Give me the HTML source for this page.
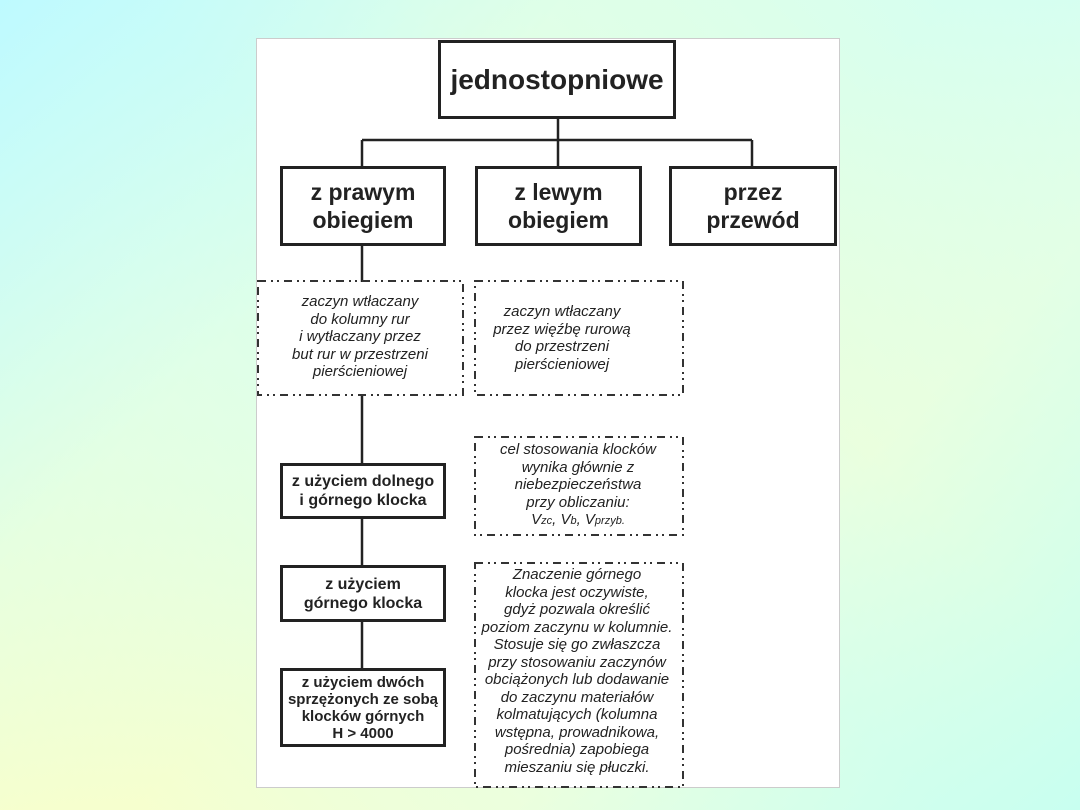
<!DOCTYPE html>
<html><head><meta charset="utf-8"><style>
html,body{margin:0;padding:0}
body{width:1080px;height:810px;overflow:hidden;position:relative;background:linear-gradient(45deg,#fbffc8 0%,#e4ffe4 35%,#d6ffee 50%,#e6ffe0 65%,#d2fff4 100%);font-family:"Liberation Sans",Arial,sans-serif}
.bg{position:absolute;left:0;top:0;width:1080px;height:810px;background:linear-gradient(135deg,rgba(190,250,255,1) 0%,rgba(220,255,235,0.5) 30%,rgba(255,255,255,0) 50%,rgba(240,255,220,0.4) 70%,rgba(200,255,240,1) 100%)}
.panel{position:absolute;left:256px;top:38px;width:584px;height:750px;background:#fff;border:1px solid #ccc;box-sizing:border-box}
.b{position:absolute;box-sizing:border-box;border:3px solid #222;background:#fff;display:flex;align-items:center;justify-content:center;text-align:center;font-weight:bold;color:#222}
.t{position:absolute;text-align:center;font-style:italic;color:#222;font-size:15px;line-height:17.5px}
svg{position:absolute;left:0;top:0}
</style></head><body>
<div class="bg"></div>
<div class="panel"></div>
<svg width="1080" height="810">
<g stroke="#222" stroke-width="2.5" fill="none">
<line x1="558" y1="118" x2="558" y2="166"/>
<line x1="362" y1="140" x2="752" y2="140"/>
<line x1="362" y1="140" x2="362" y2="166"/>
<line x1="752" y1="140" x2="752" y2="166"/>
<line x1="362" y1="245" x2="362" y2="282"/>
<line x1="362" y1="395" x2="362" y2="463"/>
<line x1="362" y1="518" x2="362" y2="565"/>
<line x1="362" y1="621" x2="362" y2="668"/>
</g>
<g stroke="#333" stroke-width="2" fill="none" stroke-dasharray="8 5 2 4 2 5">
<rect x="258" y="281" width="205" height="114"/>
<rect x="475" y="281" width="208" height="114"/>
<rect x="475" y="437" width="208" height="98"/>
<rect x="475" y="563" width="208" height="224"/>
</g>
</svg>
<div class="b" style="left:438px;top:40px;width:238px;height:79px;font-size:28px">jednostopniowe</div>
<div class="b" style="left:280px;top:166px;width:166px;height:80px;font-size:23px;line-height:28px">z prawym<br>obiegiem</div>
<div class="b" style="left:475px;top:166px;width:167px;height:80px;font-size:23px;line-height:28px">z lewym<br>obiegiem</div>
<div class="b" style="left:669px;top:166px;width:168px;height:80px;font-size:23px;line-height:28px">przez<br>przewód</div>
<div class="b" style="left:280px;top:463px;width:166px;height:56px;font-size:16px;line-height:19px">z użyciem dolnego<br>i górnego klocka</div>
<div class="b" style="left:280px;top:565px;width:166px;height:57px;font-size:16px;line-height:19px">z użyciem<br>górnego klocka</div>
<div class="b" style="left:280px;top:668px;width:166px;height:79px;font-size:15px;line-height:17px">z użyciem dwóch<br>sprzężonych ze sobą<br>klocków górnych<br>H &gt; 4000</div>
<div class="t" style="left:260px;top:293px;width:200px">zaczyn wtłaczany<br>do kolumny rur<br>i wytłaczany przez<br>but rur w przestrzeni<br>pierścieniowej</div>
<div class="t" style="left:477px;top:303px;width:170px">zaczyn wtłaczany<br>przez więźbę rurową<br>do przestrzeni<br>pierścieniowej</div>
<div class="t" style="left:477px;top:441px;width:202px">cel stosowania klocków<br>wynika głównie z<br>niebezpieczeństwa<br>przy obliczaniu:<br>V<span style="font-size:11px">zc</span>, V<span style="font-size:11px">b</span>, V<span style="font-size:11px">przyb.</span></div>
<div class="t" style="left:474px;top:566px;width:206px">Znaczenie górnego<br>klocka jest oczywiste,<br>gdyż pozwala określić<br>poziom zaczynu w kolumnie.<br>Stosuje się go zwłaszcza<br>przy stosowaniu zaczynów<br>obciążonych lub dodawanie<br>do zaczynu materiałów<br>kolmatujących (kolumna<br>wstępna, prowadnikowa,<br>pośrednia) zapobiega<br>mieszaniu się płuczki.</div>
</body></html>
